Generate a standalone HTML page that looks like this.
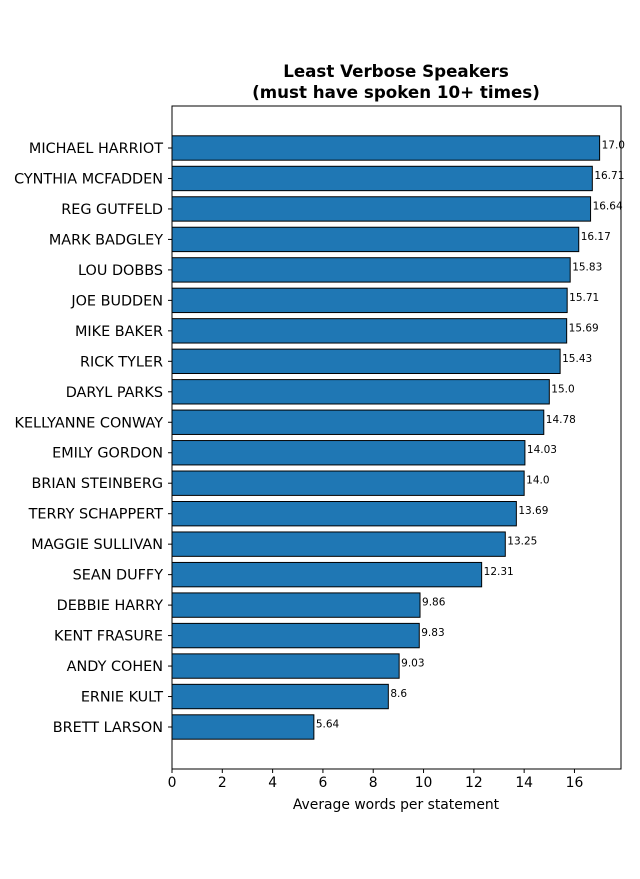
<!DOCTYPE html>
<html><head><meta charset="utf-8"><style>
body{margin:0;background:#fff;font-family:"DejaVu Sans","Liberation Sans",sans-serif;}
</style></head><body>
<svg id="chart" width="640" height="875" xmlns="http://www.w3.org/2000/svg" font-family="DejaVu Sans, Liberation Sans, sans-serif">
<rect width="640" height="875" fill="#fff"/>
<text x="396" y="77" text-anchor="middle" font-size="16.7" font-weight="bold">Least Verbose Speakers</text>
<text x="396" y="98" text-anchor="middle" font-size="16.7" font-weight="bold">(must have spoken 10+ times)</text>
<g id="bars"></g>
<g id="axes"></g>
<text x="396" y="809" text-anchor="middle" font-size="13.9">Average words per statement</text>
</svg>
<script>
const categories=["MICHAEL HARRIOT","CYNTHIA MCFADDEN","REG GUTFELD","MARK BADGLEY","LOU DOBBS","JOE BUDDEN","MIKE BAKER","RICK TYLER","DARYL PARKS","KELLYANNE CONWAY","EMILY GORDON","BRIAN STEINBERG","TERRY SCHAPPERT","MAGGIE SULLIVAN","SEAN DUFFY","DEBBIE HARRY","KENT FRASURE","ANDY COHEN","ERNIE KULT","BRETT LARSON"];
const values=[17.0,16.71,16.64,16.17,15.83,15.71,15.69,15.43,15.0,14.78,14.03,14.0,13.69,13.25,12.31,9.86,9.83,9.03,8.6,5.64];
const valueLabels=["17.0","16.71","16.64","16.17","15.83","15.71","15.69","15.43","15.0","14.78","14.03","14.0","13.69","13.25","12.31","9.86","9.83","9.03","8.6","5.64"];
const xTicks=[0,2,4,6,8,10,12,14,16];
const NS="http://www.w3.org/2000/svg";
const L=172,R=621,T=106,B=769;
const xMax=Math.max(...values)*1.05;
const x=v=>L+v/xMax*(R-L);
const n=categories.length;
const y0=148,step=(727-148)/(n-1);
const y=i=>y0+i*step;
const bh=step*0.8;
const bars=document.getElementById('bars'),axes=document.getElementById('axes');
function mk(tag,attrs,parent){const e=document.createElementNS(NS,tag);for(const k in attrs)e.setAttribute(k,attrs[k]);parent.appendChild(e);return e;}
categories.forEach((c,i)=>{
 const r=mk('rect',{x:x(0),y:y(i)-bh/2,width:x(values[i])-x(0),height:bh,fill:'#1f77b4',stroke:'#000','stroke-width':1},bars);
 
 
 const t=mk('text',{x:x(values[i])+2,y:y(i)+0.5,'font-size':10.5},bars);t.textContent=valueLabels[i];
 
 
 const lb=mk('text',{x:163,y:y(i)+5,'font-size':14.4,'text-anchor':'end'},axes);lb.textContent=c;
 
 
 mk('line',{x1:L-4,x2:L,y1:y(i),y2:y(i),stroke:'#000'},axes);
});
xTicks.forEach(v=>{
 mk('line',{x1:x(v),x2:x(v),y1:B,y2:B+4,stroke:'#000'},axes);
 const t=mk('text',{x:x(v),y:B+18,'font-size':13.9,'text-anchor':'middle'},axes);t.textContent=v;
 
 
});
const f=mk('rect',{x:L,y:T,width:R-L,height:B-T,fill:'none',stroke:'#000','stroke-width':1},axes);


</script>
</body></html>
